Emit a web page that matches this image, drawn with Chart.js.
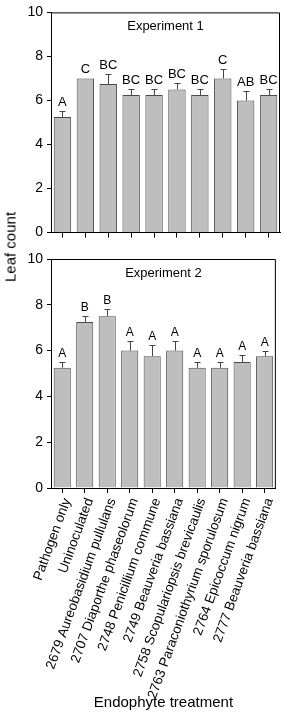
<!DOCTYPE html>
<html lang="en">
<head>
<meta charset="UTF-8">
<title>Leaf count by endophyte treatment</title>
<script src="https://cdn.jsdelivr.net/npm/chart.js@4"></script>
<style>
  body { margin: 0; background: #fff; font-family: "Liberation Sans", Arial, sans-serif; }
  #wrap { position: relative; width: 283px; height: 713px; }
  #c1 { position: absolute; left: 0; top: 0; }
  #c2 { position: absolute; left: 0; top: 245px; }
  #ytitle { position: absolute; left: 10px; top: 247px; font-size: 15px; color: #000;
            transform: translate(-50%, -50%) rotate(-90deg); white-space: nowrap; }
</style>
</head>
<body>
<div id="wrap">
  <canvas id="c1" width="283" height="245"></canvas>
  <canvas id="c2" width="283" height="468"></canvas>
  <div id="ytitle">Leaf count</div>
</div>
<script>
const categories = ['Pathogen only', 'Uninoculated', '2679 Aureobasidium pullulans', '2707 Diaporthe phaseolorum',
  '2748 Penicillium commune', '2749 Beauveria bassiana', '2758 Scopulariopsis brevicaulis',
  '2763 Paraconiothyrium sporulosum', '2764 Epicoccum nigrum', '2777 Beauveria bassiana'];

const exp1Means = [5.25, 7.0, 6.75, 6.25, 6.25, 6.5, 6.25, 7.0, 6.0, 6.25];
const exp1Err = [0.25, 0, 0.47, 0.25, 0.25, 0.28, 0.25, 0.42, 0.42, 0.25];
const exp1Letters = ['A', 'C', 'BC', 'BC', 'BC', 'BC', 'BC', 'C', 'AB', 'BC'];

const exp2Means = [5.25, 7.25, 7.5, 6.0, 5.75, 6.0, 5.25, 5.25, 5.5, 5.75];
const exp2Err = [0.25, 0.25, 0.3, 0.42, 0.48, 0.42, 0.25, 0.25, 0.3, 0.25];
const exp2Letters = ['A', 'B', 'B', 'A', 'A', 'A', 'A', 'A', 'A', 'A'];

const yTicks = [0, 2, 4, 6, 8, 10];
const font = '"Liberation Sans", Arial, sans-serif';

// box around plot, error bars, letters and panel title
const panelPlugin = {
  id: 'panel',
  afterDatasetsDraw(chart, args, opts) {
    const ctx = chart.ctx;
    const area = chart.chartArea;
    const y = chart.scales.y;
    const bars = chart.getDatasetMeta(0).data;
    ctx.save();
    ctx.strokeStyle = '#000';
    ctx.lineWidth = 1;
    ctx.beginPath();
    ctx.moveTo(area.left, area.top + 0.5);
    ctx.lineTo(area.right - 0.5, area.top + 0.5);
    ctx.lineTo(area.right - 0.5, area.bottom);
    ctx.stroke();

    ctx.strokeStyle = '#444';
    ctx.fillStyle = '#000';
    ctx.font = opts.letterSize + 'px ' + font;
    ctx.textAlign = 'center';
    ctx.textBaseline = 'alphabetic';
    bars.forEach((bar, i) => {
      const x = Math.round(bar.x) + 0.5;
      const yBar = y.getPixelForValue(opts.means[i]);
      const yTop = y.getPixelForValue(opts.means[i] + opts.err[i]);
      if (opts.err[i] > 0) {
        ctx.beginPath();
        ctx.moveTo(x, yBar);
        ctx.lineTo(x, Math.round(yTop) + 0.5);
        ctx.moveTo(x - 3, Math.round(yTop) + 0.5);
        ctx.lineTo(x + 3, Math.round(yTop) + 0.5);
        ctx.stroke();
      }
      ctx.fillText(opts.letters[i], bar.x, yTop - 5);
    });

    ctx.font = '13px ' + font;
    ctx.textBaseline = 'middle';
    ctx.fillText(opts.title, (area.left + area.right) / 2, area.top + 14);
    ctx.restore();
  }
};

function makeChart(id, means, err, letters, title, bottom) {
  return new Chart(document.getElementById(id), {
    type: 'bar',
    data: {
      labels: categories,
      datasets: [{
        data: means,
        backgroundColor: '#bebebe',
        borderColor: '#4a4a4a',
        borderWidth: 1,
        borderSkipped: 'bottom',
        barPercentage: 0.76,
        categoryPercentage: 1
      }]
    },
    plugins: [panelPlugin],
    options: {
      responsive: false,
      animation: false,
      layout: { padding: { top: bottom ? 14 : 5, right: 3, left: 0, bottom: 0 } },
      plugins: {
        legend: { display: false },
        tooltip: { enabled: false },
        panel: { means: means, err: err, letters: letters, title: title, letterSize: bottom ? 12 : 13 }
      },
      scales: {
        x: {
          grid: { display: true, drawOnChartArea: false, drawTicks: true, tickLength: 5, color: '#000', offset: false },
          border: { display: true, color: '#000', width: 1 },
          ticks: {
            display: bottom,
            color: '#000',
            font: { size: 13.5, family: font },
            maxRotation: 70, minRotation: 70,
            padding: 3,
            labelOffset: 5,
            autoSkip: false
          },
          title: {
            display: bottom,
            text: 'Endophyte treatment',
            color: '#000',
            font: { size: 15, family: font },
            padding: { top: 4, bottom: 1 }
          },
          afterFit(scale) { scale.height = bottom ? 225 : 11; }
        },
        y: {
          min: 0, max: 10,
          afterBuildTicks(scale) { scale.ticks = yTicks.map(v => ({ value: v })); },
          grid: { display: true, drawOnChartArea: false, drawTicks: true, tickLength: 4, color: '#000' },
          border: { display: true, color: '#000', width: 1 },
          ticks: { color: '#000', font: { size: 14, family: font }, padding: 4 },
          afterFit(scale) { scale.width = 51; }
        }
      }
    }
  });
}

makeChart('c1', exp1Means, exp1Err, exp1Letters, 'Experiment 1', false);
makeChart('c2', exp2Means, exp2Err, exp2Letters, 'Experiment 2', true);
</script>
</body>
</html>
